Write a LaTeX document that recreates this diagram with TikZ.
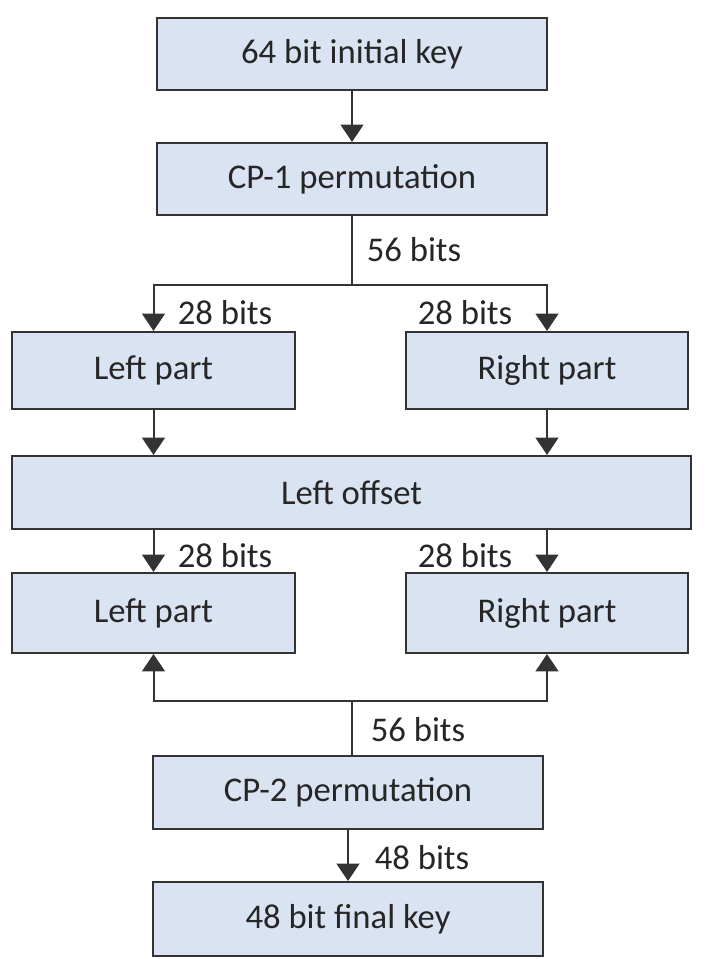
\documentclass[tikz,border=0pt]{standalone}
\usepackage{fontspec}
\setmainfont{Carlito}
\usetikzlibrary{arrows.meta}
\definecolor{boxfill}{HTML}{DAE3F1}
\definecolor{boxline}{HTML}{333333}
\tikzset{
  box/.style={draw=boxline, fill=boxfill, line width=1.5pt, inner sep=0pt, font=\fontsize{26}{30}\selectfont, text=black!85},
  arr/.style={draw=boxline, line width=1.5pt, -{Triangle[width=17pt,length=13pt]}},
  conn/.style={draw=boxline, line width=1.5pt},
  lbl/.style={font=\fontsize{26}{30}\selectfont, text=black!85, inner sep=0pt}
}
\begin{document}
\begin{tikzpicture}[x=0.75pt, y=-0.75pt]
\useasboundingbox[fill=white] (0,0) rectangle (723,959);
\node[box, minimum width=292.5pt, minimum height=54pt] (b1) at (352,54) {64 bit initial key};
\node[box, minimum width=292.5pt, minimum height=54pt] (b2) at (352,179) {CP-1 permutation};
\node[box, minimum width=212.25pt, minimum height=57.75pt] (l1) at (153.5,370.5) {Left part};
\node[box, minimum width=211.5pt, minimum height=57.75pt] (r1) at (547,370.5) {Right part};
\node[box, minimum width=509.25pt, minimum height=54.75pt] (off) at (351.5,492.5) {Left offset};
\node[box, minimum width=212.25pt, minimum height=60pt] (l2) at (153.5,613) {Left part};
\node[box, minimum width=211.5pt, minimum height=60pt] (r2) at (547,613) {Right part};
\node[box, minimum width=292.5pt, minimum height=54.75pt] (cp2) at (348,792.5) {CP-2 permutation};
\node[box, minimum width=292.5pt, minimum height=55.5pt] (fin) at (348,919) {48 bit final key};

\coordinate (j1) at (352,285);
\coordinate (j2) at (352,701);

\draw[arr] (b1.south) -- (b2.north);
\draw[conn] (b2.south) -- (j1);
\draw[arr] (j1) -| (l1.north);
\draw[arr] (j1) -| (r1.north);
\draw[arr] (l1.south) -- (l1.south |- off.north);
\draw[arr] (r1.south) -- (r1.south |- off.north);
\draw[arr] (l2.north |- off.south) -- (l2.north);
\draw[arr] (r2.north |- off.south) -- (r2.north);
\draw[conn] (j2 |- cp2.north) -- (j2);
\draw[arr] (j2) -| (l2.south);
\draw[arr] (j2) -| (r2.south);
\draw[arr] (cp2.south) -- (fin.north);

\node[lbl] (t56a) at (414,250) {56 bits};
\node[lbl] (t28a) at (225,313) {28 bits};
\node[lbl] (t28b) at (465,313) {28 bits};
\node[lbl] (t28c) at (225,556) {28 bits};
\node[lbl] (t28d) at (465,556) {28 bits};
\node[lbl] (t56b) at (418,730) {56 bits};
\node[lbl] (t48) at (422,858) {48 bits};
\end{tikzpicture}
\end{document}
